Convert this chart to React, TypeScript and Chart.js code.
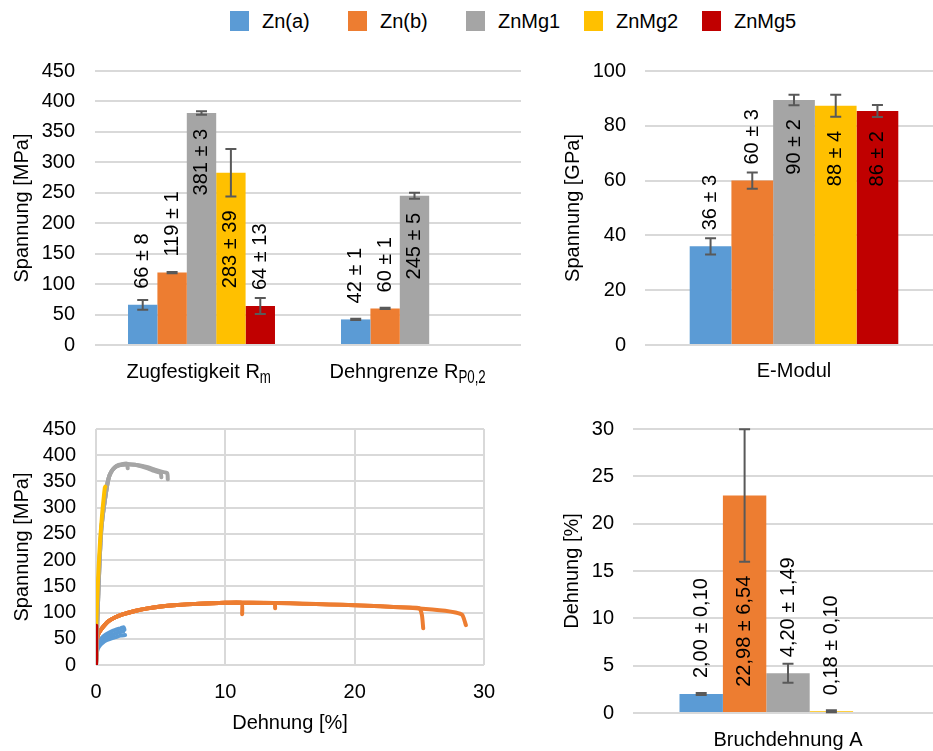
import React, { useEffect, useRef } from 'react';
import { Chart, registerables } from 'chart.js';

Chart.register(...registerables);

// ---------- shared ----------
const materials = ['Zn(a)', 'Zn(b)', 'ZnMg1', 'ZnMg2', 'ZnMg5'];
const colors = ['#5B9BD5', '#ED7D31', '#A5A5A5', '#FFC000', '#C00000'];

// ---------- Zugfestigkeit / Dehngrenze (MPa) ----------
const strengthCategories = ['Zugfestigkeit R', 'Dehngrenze R'];
const strengthSubscripts = ['m', 'P0,2'];
const strengthZnA = [66, 42];
const strengthZnB = [119, 60];
const strengthZnMg1 = [381, 245];
const strengthZnMg2 = [283, null];
const strengthZnMg5 = [64, null];
const strengthErrZnA = [8, 1];
const strengthErrZnB = [1, 1];
const strengthErrZnMg1 = [3, 5];
const strengthErrZnMg2 = [39, null];
const strengthErrZnMg5 = [13, null];
const strengthLblZnA = ['66 ± 8', '42 ± 1'];
const strengthLblZnB = ['119 ± 1', '60 ± 1'];
const strengthLblZnMg1 = ['381 ± 3', '245 ± 5'];
const strengthLblZnMg2 = ['283 ± 39', null];
const strengthLblZnMg5 = ['64 ± 13', null];
const strengthTicks = { min: 0, max: 450, step: 50 };

// ---------- E-Modul (GPa) ----------
const modulusCategories = ['E-Modul'];
const modulusValues = [36, 60, 89.4, 87.3, 85.4];
const modulusErrors = [3, 3, 1.9, 4, 2.2];
const modulusLabels = ['36 ± 3', '60 ± 3', '90 ± 2', '88 ± 4', '86 ± 2'];
const modulusTicks = { min: 0, max: 100, step: 20 };

// ---------- Bruchdehnung A (%) ----------
const elongCategories = ['Bruchdehnung A'];
const elongValues = [2.0, 22.98, 4.2, 0.18, null];
const elongErrors = [0.1, 7.0, 1.0, 0.1, null];
const elongLabels = ['2,00 ± 0,10', '22,98 ± 6,54', '4,20 ± 1,49', '0,18 ± 0,10', null];
const elongTicks = { min: 0, max: 30, step: 5 };

// ---------- Spannungs-Dehnungs-Kurven ([Dehnung %, Spannung MPa]) ----------
const curveZnA1 = [[0, 0], [0.03, 20], [0.08, 32], [0.15, 40], [0.3, 47], [0.5, 53], [0.8, 59], [1.1, 63], [1.5, 67], [1.9, 70], [2.15, 72], [2.2, 67]];
const curveZnA2 = [[0, 0], [0.03, 18], [0.08, 29], [0.15, 36], [0.3, 42], [0.5, 47], [0.8, 52], [1.1, 56], [1.5, 60], [1.9, 63], [2.1, 64]];
const curveZnA3 = [[0, 0], [0.03, 15], [0.08, 25], [0.15, 31], [0.3, 37], [0.5, 42], [0.8, 47], [1.1, 50], [1.5, 53], [1.9, 56], [2.25, 57]];
const curveZnB1 = [[0, 0], [0.05, 38], [0.1, 52], [0.2, 60], [0.4, 68], [0.7, 77], [1, 84], [1.5, 91], [2, 96], [3, 103], [4, 108], [5, 111.5], [6, 114], [8, 117], [10, 118.5], [11.25, 118.5], [11.3, 97]];
const curveZnB2 = [[0, 0], [0.05, 38], [0.1, 52], [0.2, 60], [0.4, 68], [0.7, 77], [1, 84], [1.5, 91], [2, 96], [3, 103], [4, 108], [5, 111.5], [6, 114], [8, 117], [10, 118.5], [12, 118.5], [13.8, 118], [13.85, 108]];
const curveZnB3 = [[0, 0], [0.05, 38], [0.1, 52], [0.2, 60], [0.4, 68], [0.7, 77], [1, 84], [1.5, 91], [2, 96], [3, 103], [4, 108], [5, 111.5], [6, 114], [8, 117], [10, 118.5], [12, 118.5], [14, 118], [16, 117], [18, 115.5], [20, 114], [22, 112], [24, 109.5], [25, 108], [25.2, 95], [25.3, 70]];
const curveZnB4 = [[0, 0], [0.05, 38], [0.1, 52], [0.2, 60], [0.4, 68], [0.7, 77], [1, 84], [1.5, 91], [2, 96], [3, 103], [4, 108], [5, 111.5], [6, 114], [8, 117], [10, 118.5], [12, 118.5], [14, 118], [16, 117], [18, 115.5], [20, 114], [22, 112], [24, 109.5], [26, 106], [27, 103.5], [27.8, 100], [28.3, 96], [28.45, 88], [28.6, 76]];
const curveZnMg1a = [[0, 0], [0.05, 40], [0.1, 80], [0.2, 150], [0.3, 210], [0.4, 255], [0.5, 280], [0.6, 300], [0.75, 325], [0.9, 348], [1.05, 362], [1.3, 373], [1.6, 379], [2, 382], [2.5, 383], [3, 382], [3.5, 380], [4, 377], [4.5, 373], [5, 369], [5.5, 366], [5.55, 354]];
const curveZnMg1b = [[0, 0], [0.05, 40], [0.1, 80], [0.2, 150], [0.3, 210], [0.4, 255], [0.5, 280], [0.6, 300], [0.75, 325], [0.9, 348], [1.05, 362], [1.3, 373], [1.6, 379], [2, 382], [2.5, 383], [3, 382], [3.5, 379], [4, 375], [4.5, 370], [5, 366], [5.05, 358]];
const curveZnMg1c = [[0, 0], [0.05, 40], [0.1, 80], [0.2, 150], [0.3, 210], [0.4, 255], [0.5, 280], [0.6, 300], [0.75, 325], [0.9, 348], [1.05, 362], [1.3, 373], [1.6, 380], [2, 383], [2.4, 384], [2.45, 375]];
const curveZnMg2 = [[0, 0], [0.02, 80], [0.1, 130], [0.2, 185], [0.3, 230], [0.4, 265], [0.5, 295], [0.6, 320], [0.68, 338], [0.72, 340]];
const curveZnMg5 = [[0, 0], [0.01, 40], [0.02, 75]];
const strainCurves = [
  { m: 0, pts: curveZnA1 }, { m: 0, pts: curveZnA2 }, { m: 0, pts: curveZnA3 },
  { m: 1, pts: curveZnB1 }, { m: 1, pts: curveZnB2 }, { m: 1, pts: curveZnB3 }, { m: 1, pts: curveZnB4 },
  { m: 2, pts: curveZnMg1a }, { m: 2, pts: curveZnMg1b }, { m: 2, pts: curveZnMg1c },
  { m: 3, pts: curveZnMg2 },
  { m: 4, pts: curveZnMg5 },
];
const strainXTicks = { min: 0, max: 30, step: 10 };
const strainYTicks = { min: 0, max: 450, step: 50 };

// ---------- styling ----------
const FONT = "'Liberation Sans', Arial, Helvetica, sans-serif";
const TEXT = '#000000';
const GRID = '#d9d9d9';
const ERR = '#595959';

function makeBarExtras(errors: any[][], labels: any[][], placement: string[][]) {
  return {
    id: 'barExtras',
    afterDatasetsDraw(chart: any) {
      const { ctx } = chart;
      const ys = chart.scales.y;
      chart.data.datasets.forEach((ds: any, i: number) => {
        const meta = chart.getDatasetMeta(i);
        meta.data.forEach((bar: any, j: number) => {
          const v = ds.data[j];
          if (v == null) return;
          const e = errors[i][j] ?? 0;
          const x = bar.x;
          const hi = ys.getPixelForValue(v + e);
          const lo = ys.getPixelForValue(v - e);
          ctx.save();
          ctx.strokeStyle = ERR;
          ctx.lineWidth = 2;
          ctx.beginPath();
          ctx.moveTo(x, hi); ctx.lineTo(x, lo);
          ctx.moveTo(x - 5.5, hi); ctx.lineTo(x + 5.5, hi);
          ctx.moveTo(x - 5.5, lo); ctx.lineTo(x + 5.5, lo);
          ctx.stroke();
          const text = labels[i][j];
          if (text) {
            const mode = placement[i][j];
            const anchor = mode === 'in' ? lo + 14 : bar.y - 16;
            ctx.translate(x, anchor);
            ctx.rotate(-Math.PI / 2);
            ctx.font = `20px ${FONT}`;
            ctx.fillStyle = TEXT;
            ctx.textBaseline = 'middle';
            ctx.textAlign = mode === 'in' ? 'right' : 'left';
            ctx.fillText(text, 0, 0);
          }
          ctx.restore();
        });
      });
    },
  };
}

function makeSubLabels(cats: string[], subs: string[]) {
  return {
    id: 'subLabels',
    afterDraw(chart: any) {
      const { ctx } = chart;
      const xs = chart.scales.x;
      ctx.save();
      ctx.fillStyle = TEXT;
      ctx.textBaseline = 'alphabetic';
      ctx.textAlign = 'left';
      cats.forEach((c, i) => {
        ctx.font = `20px ${FONT}`;
        const mainW = ctx.measureText(c).width;
        const subFull = ctx.measureText(subs[i]).width;
        const cx = xs.getPixelForValue(i);
        const start = cx - (mainW + subFull) / 2;
        const base = xs.top + 33;
        ctx.fillText(c, start, base);
        ctx.save();
        ctx.translate(start + mainW, base + 5);
        ctx.scale(0.7, 1);
        ctx.font = `19px ${FONT}`;
        ctx.fillText(subs[i], 0, 0);
        ctx.restore();
      });
      ctx.restore();
    },
  };
}

const tickFont = { family: FONT, size: 20 };

function yAxis(t: any, title: string, width: number, tickPad: number, titlePad: number) {
  return {
    min: t.min,
    max: t.max,
    ticks: { stepSize: t.step, padding: tickPad, color: TEXT, font: tickFont, autoSkip: false },
    grid: { color: GRID, lineWidth: 2, drawTicks: false },
    border: { display: false },
    title: { display: true, text: title, color: TEXT, font: tickFont, padding: { top: titlePad, bottom: 0 } },
    afterFit: (s: any) => {
      s.width = width;
      s.paddingTop = 0;
      s.paddingBottom = 0;
    },
  };
}

function categoryAxis(height: number, pad: number, show: boolean) {
  return {
    grid: { display: false, drawTicks: false },
    border: { display: false },
    ticks: { display: show, padding: pad, color: TEXT, font: tickFont, maxRotation: 0, autoSkip: false },
    afterFit: (s: any) => {
      s.height = height;
      s.paddingLeft = 0;
      s.paddingRight = 0;
    },
  };
}

function barDatasets(series: any[], catPct: number) {
  return series.map((d, i) => ({
    label: materials[i],
    data: d,
    backgroundColor: colors[i],
    borderWidth: 0,
    categoryPercentage: catPct,
    barPercentage: 1,
  }));
}

const basePlugins = { legend: { display: false }, tooltip: { enabled: false } };

function makeStrength() {
  const series = [strengthZnA, strengthZnB, strengthZnMg1, strengthZnMg2, strengthZnMg5];
  const errors = [strengthErrZnA, strengthErrZnB, strengthErrZnMg1, strengthErrZnMg2, strengthErrZnMg5];
  const labels = [strengthLblZnA, strengthLblZnB, strengthLblZnMg1, strengthLblZnMg2, strengthLblZnMg5];
  const placement = [['out', 'out'], ['out', 'out'], ['in', 'in'], ['in', 'in'], ['out', 'out']];
  return {
    type: 'bar',
    data: { labels: strengthCategories, datasets: barDatasets(series, 0.69) },
    options: {
      responsive: false,
      animation: false,
      layout: { padding: { top: 26, right: 1, left: 0, bottom: 0 } },
      plugins: basePlugins,
      scales: {
        x: categoryAxis(50, 0, false),
        y: yAxis(strengthTicks, 'Spannung [MPa]', 95, 20, 10),
      },
    },
    plugins: [makeBarExtras(errors, labels, placement), makeSubLabels(strengthCategories, strengthSubscripts)],
  };
}

function makeModulus() {
  const series = modulusValues.map((v) => [v]);
  const errors = modulusErrors.map((v) => [v]);
  const labels = modulusLabels.map((v) => [v]);
  const placement = [['out'], ['out'], ['in'], ['in'], ['in']];
  return {
    type: 'bar',
    data: { labels: modulusCategories, datasets: barDatasets(series, 0.7) },
    options: {
      responsive: false,
      animation: false,
      layout: { padding: { top: 26, right: 0, left: 0, bottom: 0 } },
      plugins: basePlugins,
      scales: {
        x: categoryAxis(50, 14, true),
        y: yAxis(modulusTicks, 'Spannung [GPa]', 95, 19, 11),
      },
    },
    plugins: [makeBarExtras(errors, labels, placement)],
  };
}

function makeElong() {
  const series = elongValues.map((v) => [v]);
  const errors = elongErrors.map((v) => [v]);
  const labels = elongLabels.map((v) => [v]);
  const placement = [['out'], ['in'], ['out'], ['out'], ['out']];
  return {
    type: 'bar',
    data: { labels: elongCategories, datasets: barDatasets(series, 0.7) },
    options: {
      responsive: false,
      animation: false,
      layout: { padding: { top: 24, right: 0, left: 0, bottom: 0 } },
      plugins: basePlugins,
      scales: {
        x: categoryAxis(38, 15, true),
        y: yAxis(elongTicks, 'Dehnung [%]', 83, 19, 10),
      },
    },
    plugins: [makeBarExtras(errors, labels, placement)],
  };
}

function makeCurves() {
  return {
    type: 'scatter',
    data: {
      datasets: strainCurves.map((c) => ({
        label: materials[c.m],
        data: c.pts.map(([x, y]) => ({ x, y })),
        borderColor: colors[c.m],
        backgroundColor: colors[c.m],
        showLine: true,
        pointRadius: 0,
        borderWidth: 4,
        borderJoinStyle: 'round',
        borderCapStyle: 'round',
        tension: 0.2,
        order: 5 - c.m,
      })),
    },
    options: {
      responsive: false,
      animation: false,
      layout: { padding: { top: 24, right: 16, left: 0, bottom: 0 } },
      plugins: basePlugins,
      scales: {
        x: {
          type: 'linear',
          min: strainXTicks.min,
          max: strainXTicks.max,
          ticks: { stepSize: strainXTicks.step, padding: 15, color: TEXT, font: tickFont, maxRotation: 0, autoSkip: false },
          grid: { color: GRID, lineWidth: 2, drawTicks: false },
          border: { display: false },
          title: { display: true, text: 'Dehnung [%]', color: TEXT, font: tickFont, padding: { top: 0, bottom: 16 } },
          afterFit: (s: any) => {
            s.height = 86;
            s.paddingLeft = 0;
            s.paddingRight = 0;
          },
        },
        y: yAxis(strainYTicks, 'Spannung [MPa]', 96, 20, 10),
      },
    },
  };
}

function ChartPanel({ left, top, width, height, make }: any) {
  const ref = useRef<HTMLCanvasElement>(null);
  useEffect(() => {
    const chart = new Chart(ref.current as HTMLCanvasElement, make());
    return () => chart.destroy();
  }, []);
  return (
    <canvas
      ref={ref}
      width={width}
      height={height}
      style={{ position: 'absolute', left, top, width, height, display: 'block' }}
    />
  );
}

const legendLeft = 230;
const legendStep = 118;

export default function App() {
  return (
    <div
      style={{
        position: 'absolute',
        left: 0,
        top: 0,
        width: 933,
        height: 751,
        overflow: 'hidden',
        background: '#ffffff',
        fontFamily: FONT,
      }}
    >
      {materials.map((m, i) => (
        <React.Fragment key={m}>
          <div
            style={{
              position: 'absolute',
              left: legendLeft + i * legendStep,
              top: 11,
              width: 19,
              height: 20,
              background: colors[i],
            }}
          />
          <div
            style={{
              position: 'absolute',
              left: legendLeft + i * legendStep + 32,
              top: 11,
              fontSize: 20,
              lineHeight: '20px',
              color: TEXT,
              whiteSpace: 'nowrap',
            }}
          >
            {m}
          </div>
        </React.Fragment>
      ))}
      <ChartPanel left={0} top={45} width={522} height={350} make={makeStrength} />
      <ChartPanel left={550} top={45} width={393} height={350} make={makeModulus} />
      <ChartPanel left={0} top={405} width={500} height={346} make={makeCurves} />
      <ChartPanel left={550} top={405} width={393} height={346} make={makeElong} />
    </div>
  );
}
